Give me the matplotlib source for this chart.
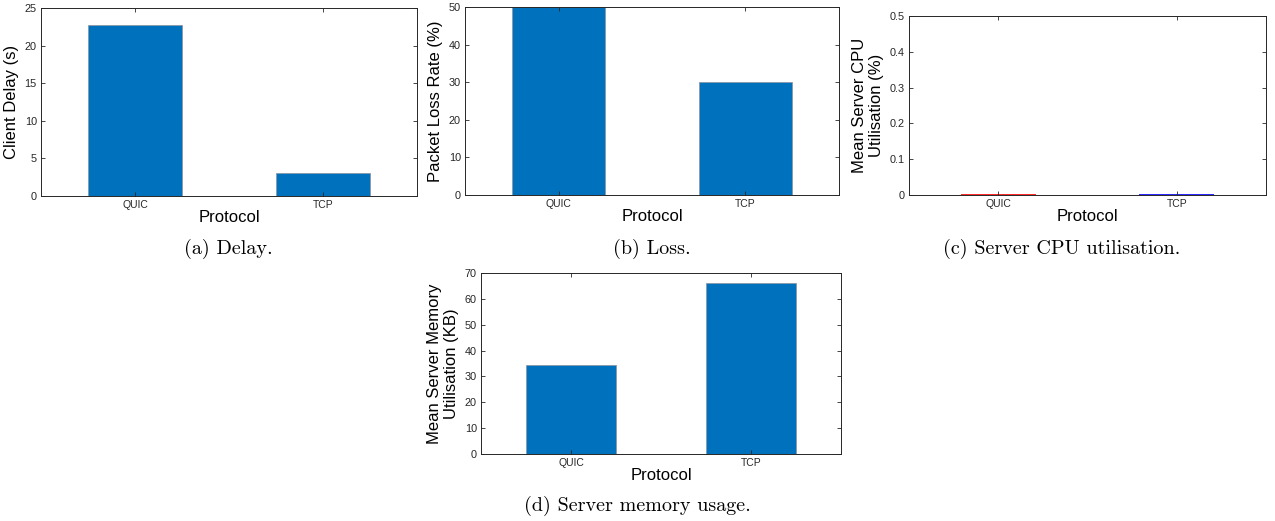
import matplotlib.pyplot as plt
import numpy as np

protocols = ['QUIC', 'TCP']
client_delay = [22.7, 3.1]
packet_loss = [50.0, 30.0]
cpu_util = [0.0005, 0.0005]
mem_util = [34.6, 66.0]

plt.rcParams['font.family'] = ['Liberation Sans', 'DejaVu Sans']

BLUE = '#0072BD'
AXC = '#262626'

W, H = 1275, 521
fig = plt.figure(figsize=(W / 100, H / 100), dpi=100)


def make_ax(x0, y0, x1, y1):
    return fig.add_axes([x0 / W, 1 - y1 / H, (x1 - x0) / W, (y1 - y0) / H])


def style(ax, ylim, yticks, ylabel):
    ax.set_xlim(0.5, 2.5)
    ax.set_ylim(*ylim)
    ax.set_yticks(yticks)
    ax.set_xticks([1, 2])
    ax.set_xticklabels(protocols, fontsize=7.5, color=AXC)
    ax.tick_params(axis='y', labelsize=7.8, labelcolor=AXC)
    ax.tick_params(direction='in', top=True, right=True, length=3,
                   width=0.6, color=AXC, pad=3)
    for s in ax.spines.values():
        s.set_color(AXC)
        s.set_linewidth(0.7)
    ax.set_xlabel('Protocol', fontsize=12, labelpad=0)
    ax.set_ylabel(ylabel, fontsize=12, labelpad=4)


x = np.array([1, 2])

# (a) delay
ax = make_ax(41, 8, 417, 196)
ax.bar(x, client_delay, width=0.5, color=BLUE, edgecolor='#8a9aa8', linewidth=0.6)
style(ax, (0, 25), range(0, 26, 5), 'Client Delay (s)')

# (b) loss
ax = make_ax(465, 7, 839, 195)
ax.bar(x, packet_loss, width=0.5, color=BLUE, edgecolor='#8a9aa8', linewidth=0.6)
style(ax, (0, 50), range(0, 51, 10), 'Packet Loss Rate (%)')

# (c) cpu
ax = make_ax(909, 16, 1266, 195)
ax.bar(x, cpu_util, width=0.42, color=['red', 'blue'],
       edgecolor=['red', 'blue'], linewidth=1.2)
style(ax, (0, 0.5), np.arange(0, 0.51, 0.1), 'Mean Server CPU\nUtilisation (%)')
ax.set_yticklabels(['0', '0.1', '0.2', '0.3', '0.4', '0.5'])

# (d) memory
ax = make_ax(481, 273, 841, 454)
ax.bar(x, mem_util, width=0.5, color=BLUE, edgecolor='#8a9aa8', linewidth=0.6)
style(ax, (0, 70), range(0, 71, 10), 'Mean Server Memory\nUtilisation (KB)')

# captions
cap = dict(fontsize=14.5, family='cmr10', ha='center', va='center')
fig.text(228 / W, 1 - 249 / H, '(a) Delay.', **cap)
fig.text(652 / W, 1 - 249 / H, '(b) Loss.', **cap)
fig.text(1062 / W, 1 - 249 / H, '(c) Server CPU utilisation.', **cap)
fig.text(637 / W, 1 - 506 / H, '(d) Server memory usage.', **cap)

fig.savefig('out.png', dpi=100)
